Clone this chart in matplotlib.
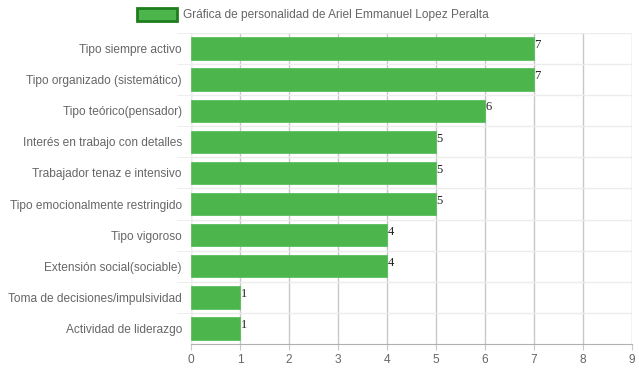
import matplotlib
matplotlib.use("Agg")
import matplotlib.pyplot as plt
from matplotlib.patches import Rectangle

categorias = [
    "Tipo siempre activo",
    "Tipo organizado (sistemático)",
    "Tipo teórico(pensador)",
    "Interés en trabajo con detalles",
    "Trabajador tenaz e intensivo",
    "Tipo emocionalmente restringido",
    "Tipo vigoroso",
    "Extensión social(sociable)",
    "Toma de decisiones/impulsividad",
    "Actividad de liderazgo",
]
valores = [7, 7, 6, 5, 5, 5, 4, 4, 1, 1]
ticks_x = list(range(0, 10))
titulo_leyenda = "Gráfica de personalidad de Ariel Emmanuel Lopez Peralta"

plt.rcParams['font.family'] = ['Liberation Sans', 'DejaVu Sans']

fig = plt.figure(figsize=(6.39, 3.72), dpi=100)
ax = fig.add_axes([191 / 639, 1 - 344 / 372, 441 / 639, 311 / 372])

n = len(categorias)
pos = list(range(n))
ax.barh(pos, valores, height=0.72, color="#4cb54c", edgecolor="#5cbf5c",
        linewidth=0.6, zorder=3)
for y, v in zip(pos, valores):
    ax.text(v + 0.01, y - 0.3, str(v), ha="left", va="top", fontsize=9,
            family="Liberation Serif", color="#222222", zorder=4)

ax.set_xlim(0, 9)
ax.set_ylim(n - 0.5, -0.5)
ax.set_xticks(ticks_x)
ax.set_yticks(pos)
ax.set_yticklabels(categorias)
ax.set_yticks([p - 0.5 for p in pos], minor=True)

ax.grid(axis="x", color="#c8c8c8", linewidth=1, zorder=0)
ax.grid(axis="y", which="minor", color="#ececec", linewidth=1, zorder=0)
ax.tick_params(axis="x", length=4, color="#c8c8c8", labelsize=8.6, labelcolor="#666666", pad=3)
ax.tick_params(axis="y", which="major", length=0, labelsize=8.6, labelcolor="#666666", pad=6.5)
ax.tick_params(axis="y", which="minor", length=10, color="#ececec")

for s in ["top", "right"]:
    ax.spines[s].set_visible(False)
ax.spines["bottom"].set_color("#b0b0b0")
ax.spines["left"].set_color("#ececec")

# leyenda
fig.patches.append(Rectangle((137 / 639, 1 - 21 / 372), 40 / 639, 13 / 372,
                             transform=fig.transFigure, facecolor="#4cb54c",
                             edgecolor="#1e7d1e", linewidth=2, figure=fig))
fig.text(183 / 639, 1 - 15 / 372, titulo_leyenda, ha="left", va="center",
         fontsize=8.6, color="#666666")

fig.savefig("out.png", dpi=100)
